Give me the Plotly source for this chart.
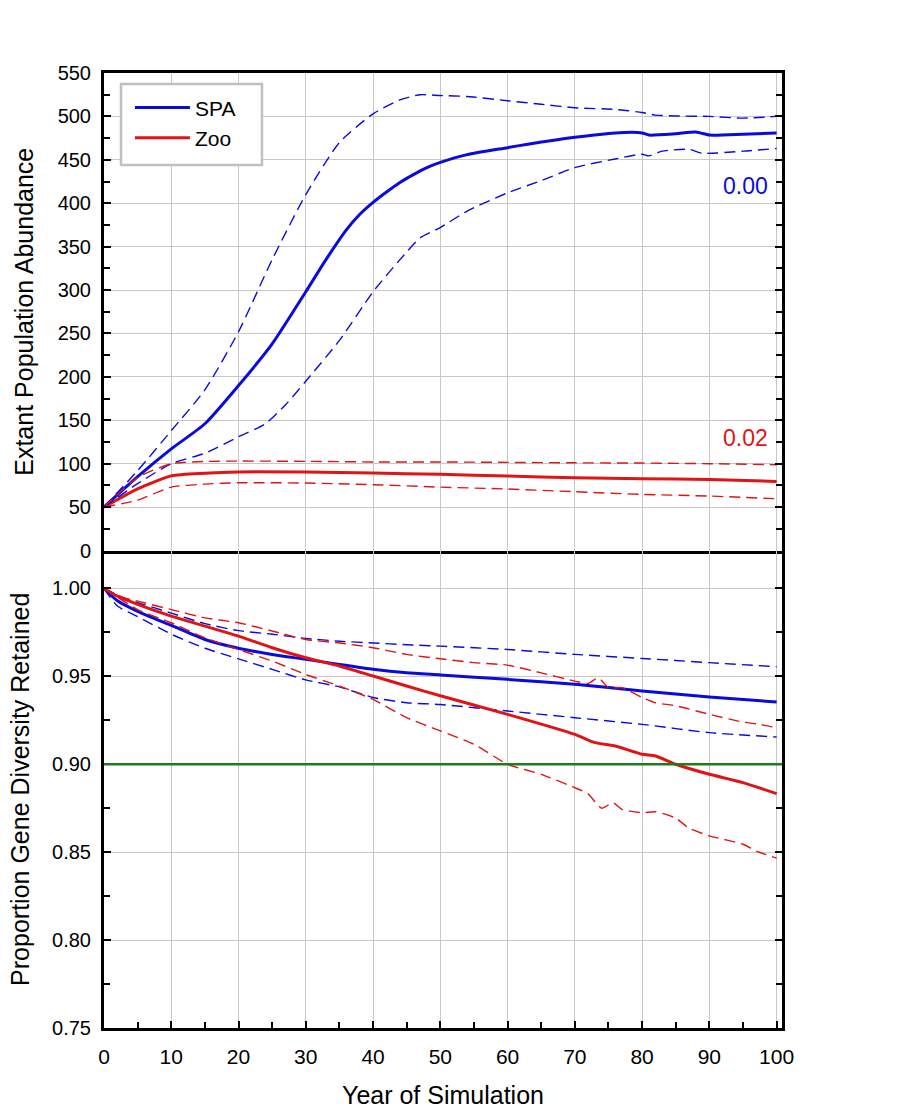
import plotly.graph_objects as go

# ---------------- data: top panel (Extant Population Abundance) ----------------
spa_n_years = [0, 5, 10, 15, 20, 25, 30, 33, 36, 38, 40, 42, 44, 46, 48, 50, 54, 60, 63, 70, 76, 80, 81, 85, 88, 90, 95, 100]
spa_n_mean  = [50, 85, 117, 146, 190, 238, 298, 335, 369, 387, 401, 413, 424, 433, 441, 447, 456, 464, 468, 476, 481, 481, 478.5, 480, 482, 478.5, 479.5, 481]

spa_n_up_years = [0, 5, 10, 15, 20, 25, 30, 35, 40, 44, 47, 50, 54, 60, 65, 70, 76, 80, 82, 85, 90, 95, 100]
spa_n_up       = [50, 92, 138, 185, 252, 335, 410, 470, 503, 519, 525, 524, 523, 518, 514, 510, 508, 504.5, 501.5, 500.5, 500, 498, 500]

spa_n_lo_years = [0, 5, 10, 15, 20, 24, 27, 30, 35, 40, 44, 47, 50, 54, 60, 65, 70, 76, 80, 81, 83, 87, 89, 95, 100]
spa_n_lo       = [50, 77, 100, 112, 131, 146, 168, 195, 242, 298, 335, 360, 372, 391, 412, 426, 441, 451, 456.5, 454.5, 460, 462, 457.5, 460, 463]

zoo_n_years = [0, 5, 10, 15, 20, 30, 40, 50, 60, 70, 80, 90, 100]
zoo_n_mean  = [50, 71, 86, 89, 90.5, 90.4, 89.3, 87.7, 85.8, 83.8, 82.7, 81.8, 79.6]
zoo_n_up    = [50, 84, 100, 102.5, 103, 102.7, 102, 102, 101.5, 101, 100.7, 100, 98.8]
zoo_n_lo    = [50, 58, 73, 76.5, 78, 77.7, 75.8, 73, 70.8, 67.7, 64.6, 62.7, 59.6]

# ---------------- data: bottom panel (Proportion Gene Diversity Retained) ----------------
gd_years   = [0, 2, 5, 10, 15, 20, 25, 30, 35, 40, 45, 50, 60, 70, 80, 90, 100]
spa_gd_mean = [1.000, 0.993, 0.987, 0.979, 0.971, 0.966, 0.9625, 0.9597, 0.9568, 0.954, 0.952, 0.9508, 0.9483, 0.9455, 0.9417, 0.9383, 0.9354]
spa_gd_up   = [1.000, 0.996, 0.992, 0.986, 0.980, 0.976, 0.974, 0.9716, 0.970, 0.969, 0.968, 0.9672, 0.9653, 0.9625, 0.9602, 0.9578, 0.9555]
spa_gd_lo   = [1.000, 0.990, 0.984, 0.974, 0.966, 0.960, 0.954, 0.948, 0.944, 0.938, 0.935, 0.934, 0.9303, 0.9265, 0.9227, 0.918, 0.9155]

zoo_gd_years = [0, 2, 5, 10, 15, 20, 25, 30, 35, 40, 45, 50, 60, 70, 73, 76, 80, 82, 85, 90, 95, 100]
zoo_gd_mean  = [1.000, 0.9956, 0.991, 0.9843, 0.9786, 0.9729, 0.9663, 0.9606, 0.9559, 0.9502, 0.9445, 0.939,
                0.9284, 0.917, 0.9123, 0.9104, 0.9057, 0.9047, 0.900, 0.8943, 0.8896, 0.8833]

zoo_gd_up_years = [0, 3, 5, 10, 15, 20, 25, 30, 35, 40, 45, 50, 55, 60, 65, 70, 72, 73.5, 75, 77, 80, 82, 85, 90, 95, 97, 100]
zoo_gd_up       = [1.000, 0.9947, 0.9928, 0.988, 0.9833, 0.9805, 0.9758, 0.971, 0.969, 0.9663, 0.9625, 0.960, 0.9578,
                   0.9564, 0.952, 0.9473, 0.946, 0.9492, 0.9436, 0.9436, 0.938, 0.935, 0.9333, 0.9284, 0.924, 0.923, 0.9208]

zoo_gd_lo_years = [0, 5, 10, 15, 20, 25, 30, 35, 40, 45, 50, 55, 60, 65, 70, 72, 73.3, 74, 75.7, 77, 80, 82, 85, 87, 90, 95, 97, 100]
zoo_gd_lo       = [1.000, 0.988, 0.9805, 0.972, 0.9653, 0.9587, 0.9511, 0.9445, 0.9369, 0.9265, 0.919, 0.9114, 0.900,
                   0.8943, 0.8867, 0.883, 0.8773, 0.875, 0.878, 0.8744, 0.8725, 0.873, 0.8694, 0.8636, 0.8593, 0.8545, 0.8506, 0.8466]

threshold = 0.90
labels = ["SPA", "Zoo"]
rate_labels = ["0.00", "0.02"]

BLUE = "#0a0ade"
RED = "#e01414"
GREEN = "#1a7f1a"
FONT = "Liberation Sans, Arial, sans-serif"

fig = go.Figure()

def add(x, y, color, axis, dashed, name=None, legend=False):
    fig.add_trace(go.Scatter(
        x=x, y=y, mode="lines", name=name, showlegend=legend,
        xaxis="x" if axis == 1 else "x2", yaxis="y" if axis == 1 else "y2",
        line=dict(color=color, width=1.4 if dashed else 3,
                  dash="11px,6px" if dashed else "solid",
                  shape="spline", smoothing=0.6),
        hoverinfo="skip"))

# top panel
add(spa_n_years, spa_n_mean, BLUE, 1, False, labels[0], True)
add(zoo_n_years, zoo_n_mean, RED, 1, False, labels[1], True)
add(spa_n_up_years, spa_n_up, BLUE, 1, True)
add(spa_n_lo_years, spa_n_lo, BLUE, 1, True)
add(zoo_n_years, zoo_n_up, RED, 1, True)
add(zoo_n_years, zoo_n_lo, RED, 1, True)
# bottom panel
add(gd_years, spa_gd_mean, BLUE, 2, False)
add(gd_years, spa_gd_up, BLUE, 2, True)
add(gd_years, spa_gd_lo, BLUE, 2, True)
add(zoo_gd_years, zoo_gd_mean, RED, 2, False)
add(zoo_gd_up_years, zoo_gd_up, RED, 2, True)
add(zoo_gd_lo_years, zoo_gd_lo, RED, 2, True)

GRID = "#c8c8c8"
common_x = dict(range=[0, 100.8], showline=True, linecolor="black", linewidth=3, automargin=False,
                showgrid=True, gridcolor=GRID, gridwidth=1, dtick=10, zeroline=False)
common_y = dict(showline=True, linecolor="black", linewidth=3, mirror="ticks", automargin=False,
                showgrid=True, gridcolor=GRID, gridwidth=1, zeroline=False,
                ticks="inside", ticklen=7, tickwidth=2, tickcolor="black",
                tickfont=dict(size=20, color="black", family=FONT), ticklabelstandoff=6)

fig.update_layout(
    width=918, height=1114,
    margin=dict(l=104, r=136, t=73, b=86),
    paper_bgcolor="white", plot_bgcolor="white",
    font=dict(family=FONT, color="black"),
    xaxis=dict(**common_x, anchor="y", domain=[0, 1], mirror=True, showticklabels=False, ticks=""),
    yaxis=dict(**common_y, anchor="x", domain=[0.5, 1], range=[0, 550], dtick=50,
               minor=dict(dtick=25, ticks="inside", ticklen=6, tickwidth=2, tickcolor="black", showgrid=False),
               title=dict(text="Extant Population Abundance", font=dict(size=25, family=FONT), standoff=17)),
    xaxis2=dict(**common_x, anchor="y2", domain=[0, 1], matches="x", mirror=False,
                ticks="inside", ticklen=7, tickwidth=2, tickcolor="black",
                minor=dict(dtick=5, ticks="inside", ticklen=6, tickwidth=2, tickcolor="black", showgrid=False),
                tickfont=dict(size=21, color="black", family=FONT), ticklabelstandoff=8,
                title=dict(text="Year of Simulation", font=dict(size=25, family=FONT), standoff=20)),
    yaxis2=dict(**common_y, anchor="x2", domain=[0, 0.5], range=[0.75, 1.0216], dtick=0.05, tickformat=".2f",
                minor=dict(dtick=0.025, ticks="inside", ticklen=6, tickwidth=2, tickcolor="black", showgrid=False),
                title=dict(text="Proportion Gene Diversity Retained", font=dict(size=25, family=FONT), standoff=16)),
    legend=dict(x=0.0383, y=0.985, xanchor="left", yanchor="top",
                borderwidth=0, bgcolor="rgba(0,0,0,0)",
                font=dict(size=21, family=FONT, color="black"),
                itemwidth=55, tracegroupgap=0),
    shapes=[
        dict(type="line", xref="x2", x0=0, x1=100.8, yref="y2", y0=threshold, y1=threshold,
             line=dict(color=GREEN, width=2.5), layer="above"),
        dict(type="rect", xref="paper", yref="paper", x0=0.0251, x1=0.233, y0=0.9037, y1=0.9885,
             line=dict(color="#c0c0c0", width=2.5), fillcolor="white", layer="above"),
    ],
    annotations=[
        dict(x=95.3, y=420, xref="x", yref="y", text=rate_labels[0], showarrow=False,
             font=dict(size=23, color=BLUE, family=FONT)),
        dict(x=95.3, y=130, xref="x", yref="y", text=rate_labels[1], showarrow=False,
             font=dict(size=23, color=RED, family=FONT)),
    ],
)

fig.write_html("out.html")
